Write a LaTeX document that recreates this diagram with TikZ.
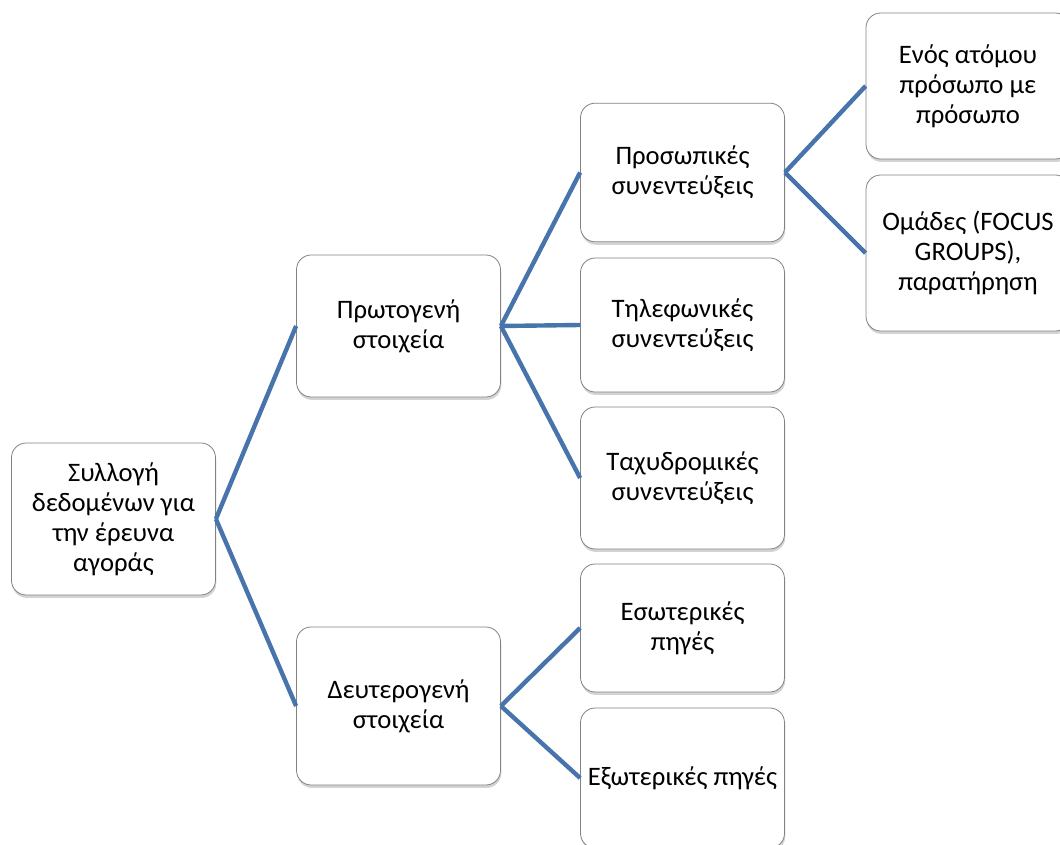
\documentclass[tikz,border=0pt]{standalone}
\usepackage{fontspec}
\setmainfont{Carlito}
\usepackage{xcolor}
\usepackage{tikz}
\definecolor{linkblue}{RGB}{72,116,172}
\definecolor{boxgray}{RGB}{130,130,130}
\usetikzlibrary{shadows}

\begin{document}
\begin{tikzpicture}[x=0.75pt,y=-0.75pt,
    box/.style={draw=boxgray, line width=0.6pt, fill=white, rounded corners=11pt,
        minimum width=153pt, align=center, font=\fontsize{20}{22.5}\selectfont,
        drop shadow={opacity=0.35, shadow xshift=0.6pt, shadow yshift=-2.2pt}},
    link/.style={draw=linkblue, line width=3.3pt}]
    \useasboundingbox (0,0) rectangle (1060,845);
    % Root and first level
    \node[box, minimum height=114pt] (root) at (113.5,519) {Συλλογή\\δεδομένων για\\την έρευνα\\αγοράς};
    \node[box, minimum height=106.5pt] (prim) at (398.5,326) {Πρωτογενή\\στοιχεία};
    \node[box, minimum height=118.5pt] (sec) at (398.5,706) {Δευτερογενή\\στοιχεία};
    % Second level
    \node[box, minimum height=104pt] (pers) at (682.5,172.5) {Προσωπικές\\συνεντεύξεις};
    \node[box, minimum height=100.5pt] (phone) at (682.5,325) {Τηλεφωνικές\\συνεντεύξεις};
    \node[box, minimum height=106.5pt] (mail) at (682.5,478) {Ταχυδρομικές\\συνεντεύξεις};
    \node[box, minimum height=96pt] (intl) at (682.5,628) {Εσωτερικές\\πηγές};
    \node[box, minimum height=105pt] (extl) at (682.5,778) {Εξωτερικές πηγές};
    % Third level
    \node[box, minimum height=109.5pt] (one) at (968,86) {Ενός ατόμου\\πρόσωπο με\\πρόσωπο};
    \node[box, minimum height=117pt] (focus) at (968,253) {Ομάδες (FOCUS\\GROUPS),\\παρατήρηση};
    % Connectors
    \foreach \a/\b in {root/prim, root/sec, prim/pers, prim/phone, prim/mail,
        sec/intl, sec/extl, pers/one, pers/focus} {
        \draw[link] (\a.east) -- (\b.west);
    }
\end{tikzpicture}
\end{document}
